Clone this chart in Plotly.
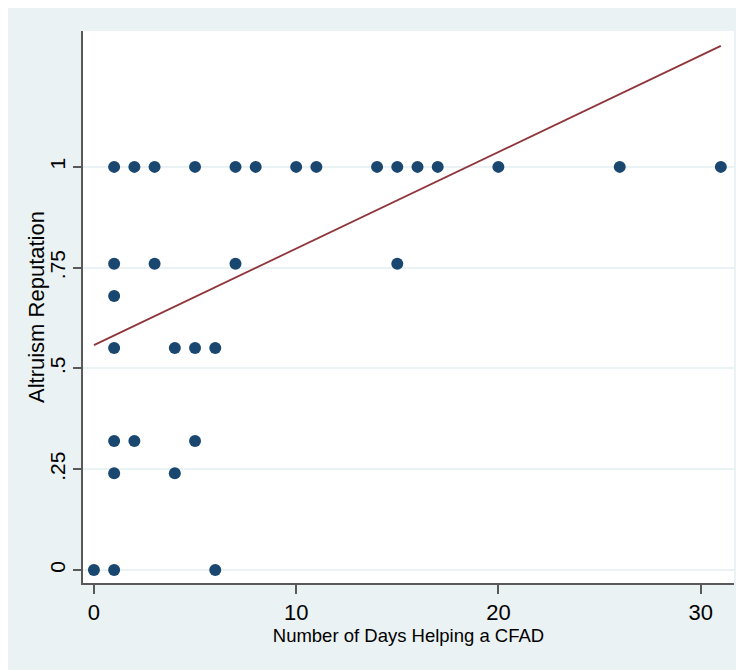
import plotly.graph_objects as go

# Data
days = [1, 2, 3, 5, 7, 8, 10, 11, 14, 15, 16, 17, 20, 26, 31,
        1, 3, 7, 15,
        1,
        1, 4, 5, 6,
        1, 2, 5,
        1, 4,
        0, 1, 6]
reputation = [1] * 15 + [0.76] * 4 + [0.68] + [0.551] * 4 + [0.32] * 3 + [0.24] * 2 + [0, 0, 0]

fit_x = [0, 31]
fit_y = [0.558, 1.30]

x_ticks = [0, 10, 20, 30]
x_tick_text = ["0", "10", "20", "30"]
y_ticks = [0, 0.25, 0.5, 0.75, 1]
y_tick_text = ["0", ".25", ".5", ".75", "1"]

BG = "#EAF2F3"
FONT = "Liberation Sans, Arial, Helvetica, sans-serif"

fig = go.Figure()
fig.add_trace(go.Scatter(x=days, y=reputation, mode="markers",
                         marker=dict(color="#1A476F", size=12, line=dict(width=0)),
                         showlegend=False, hoverinfo="x+y"))
fig.add_trace(go.Scatter(x=fit_x, y=fit_y, mode="lines",
                         line=dict(color="#90353B", width=1.8),
                         showlegend=False))

# The page body adds an 8px margin on the left and top (the white border)
W, H = 736, 662
ml, mr, mt, mb = 75, 10, 23, 87

fig.update_layout(
    width=W, height=H,
    margin=dict(l=ml, r=mr, t=mt, b=mb, pad=0, autoexpand=False),
    paper_bgcolor=BG,
    plot_bgcolor="white",
    font=dict(family=FONT, color="#000000"),
    xaxis=dict(
        range=[-0.54, 31.65],
        tickvals=x_ticks, ticktext=x_tick_text,
        ticks="outside", ticklen=9, tickwidth=1.5, tickcolor="#595959",
        showline=True, linecolor="#595959", linewidth=2,
        showgrid=False, zeroline=False, automargin=False,
        tickfont=dict(size=22, family=FONT),
        title=dict(text="Number of Days Helping a CFAD",
                   font=dict(size=18.5, family=FONT), standoff=0),
    ),
    yaxis=dict(
        range=[-0.032, 1.337],
        tickvals=y_ticks, ticktext=y_tick_text,
        tickangle=-90,
        ticks="outside", ticklen=8, tickwidth=1.5, tickcolor="#595959",
        showline=True, linecolor="#595959", linewidth=2,
        showgrid=True, gridcolor=BG, gridwidth=1.5,
        zeroline=False, automargin=False,
        tickfont=dict(size=21, family=FONT),
    ),
    annotations=[
        dict(text="Altruism Reputation", xref="paper", yref="paper",
             x=0, y=0.5, xanchor="center", yanchor="middle",
             xshift=-47, textangle=-90, showarrow=False,
             font=dict(size=22, family=FONT, color="#000000")),
    ],
)

fig.write_html("out.html")
